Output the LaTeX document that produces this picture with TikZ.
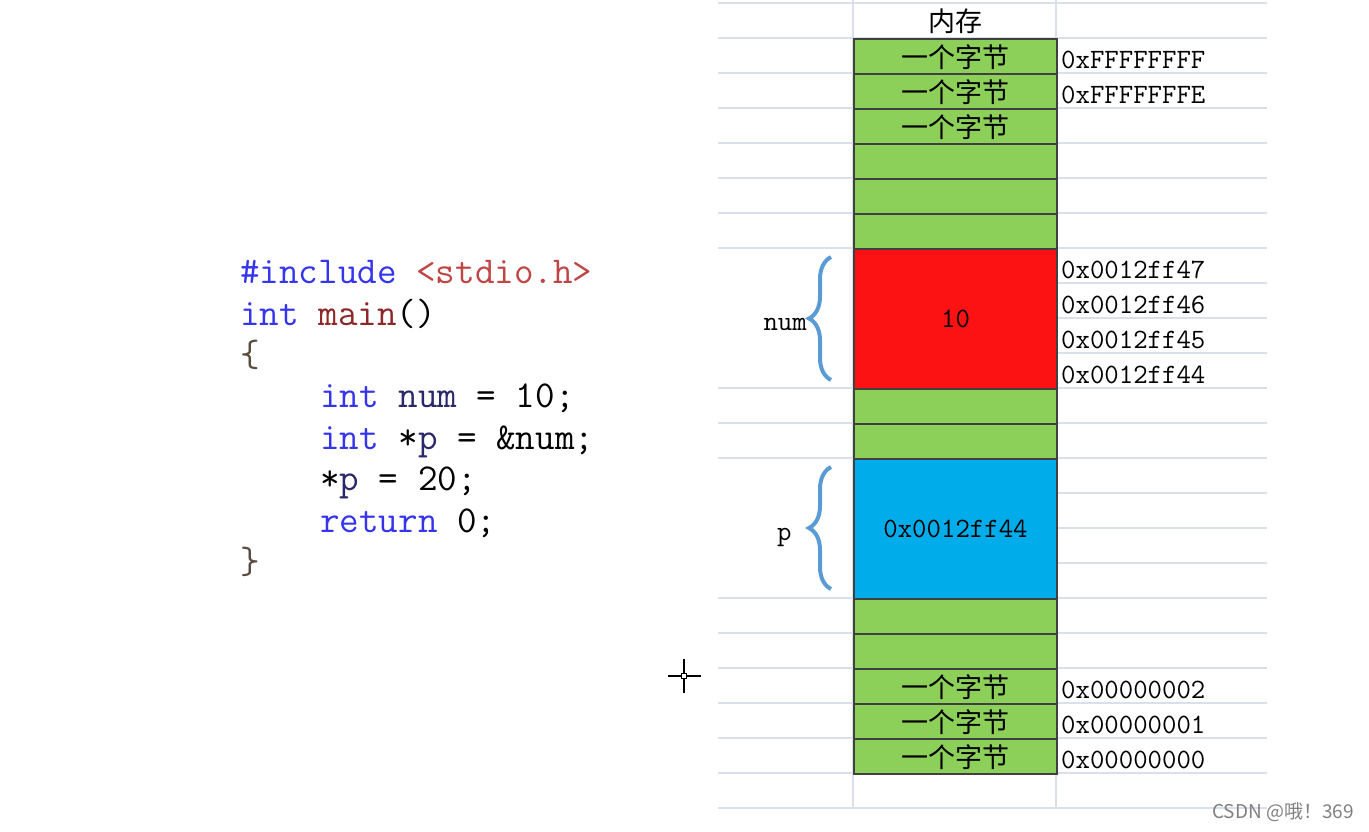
\documentclass[tikz,border=0pt]{standalone}
\usepackage{fontspec}
\newfontfamily\cjk{Noto Sans CJK SC}
\usetikzlibrary{decorations.pathreplacing}

\definecolor{cellgreen}{HTML}{8CD05A}
\definecolor{cellred}{HTML}{FC1212}
\definecolor{cellblue}{HTML}{00ADEA}
\definecolor{gridline}{HTML}{DAE0EA}
\definecolor{bracecol}{HTML}{5B9BD5}
\definecolor{kwblue}{HTML}{3535F0}
\definecolor{fnred}{HTML}{8E2828}
\definecolor{strred}{HTML}{C04545}
\definecolor{varnavy}{HTML}{28286A}
\definecolor{bracegray}{HTML}{5A4C40}

\tikzset{
  memcell/.style={draw=black!75, line width=2pt, minimum width=203pt,
    inner sep=0pt, anchor=north west},
  bytetxt/.style={font=\cjk\fontsize{27}{27}\selectfont},
  addr/.style={font=\ttfamily\fontsize{28}{28}\selectfont, inner sep=0pt, anchor=base west},
  codeline/.style={font=\ttfamily\fontsize{38}{38}\selectfont, inner sep=0pt, anchor=base west},
  varbrace/.style={decorate, decoration={brace, amplitude=22pt}, draw=bracecol, line width=4pt}
}

\begin{document}
\begin{tikzpicture}[x=1pt,y=-1pt]
  \useasboundingbox (0,0) rectangle (1369,831);

  % sheet grid
  \foreach \y in {3,38,73,108,143,178,213,248,388,423,458,598,633,668,703,738,773,808}
    \draw[gridline, line width=1.6pt] (718,\y) -- (1267,\y);
  \foreach \y in {283,318,353,493,528,563}
    \draw[gridline, line width=1.6pt] (1056,\y) -- (1267,\y);
  \foreach \x in {853,1056}
    \draw[gridline, line width=1.6pt] (\x,0) -- (\x,808);

  % code
  \node[codeline] (l1) at (240,283) {\textcolor{kwblue}{\#include} \textcolor{strred}{<stdio.h>}};
  \node[codeline] (l2) at (240,325) {\textcolor{kwblue}{int} \textcolor{fnred}{main}()};
  \node[codeline] (l3) at (240,366) {\textcolor{bracegray}{\{}};
  \node[codeline] (l4) at (320,407) {\textcolor{kwblue}{int} \textcolor{varnavy}{num} = 10;};
  \node[codeline] (l5) at (320,449) {\textcolor{kwblue}{int} *\textcolor{varnavy}{p} = \&num;};
  \node[codeline] (l6) at (320,490) {*\textcolor{varnavy}{p} = 20;};
  \node[codeline] (l7) at (320,532) {\textcolor{kwblue}{return} 0;};
  \node[codeline] (l8) at (240,573) {\textcolor{bracegray}{\}}};

  % memory column
  \node[bytetxt] (head) at (955,21) {内存};
  \node[memcell, fill=cellgreen, minimum height=35pt] (hi1) at (853,38) {};
  \node[memcell, fill=cellgreen, minimum height=35pt] (hi2) at (853,73) {};
  \node[memcell, fill=cellgreen, minimum height=35pt] (hi3) at (853,108) {};
  \foreach \t in {143,178,213,388,423,598,633}
    \node[memcell, fill=cellgreen, minimum height=35pt] at (853,\t) {};
  \node[memcell, fill=cellred, minimum height=140pt] (numcell) at (853,248) {};
  \node[memcell, fill=cellblue, minimum height=140pt] (pcell) at (853,458) {};
  \node[memcell, fill=cellgreen, minimum height=35pt] (lo3) at (853,668) {};
  \node[memcell, fill=cellgreen, minimum height=35pt] (lo2) at (853,703) {};
  \node[memcell, fill=cellgreen, minimum height=35pt] (lo1) at (853,738) {};
  \foreach \c in {hi1,hi2,hi3,lo3,lo2,lo1}
    \node[bytetxt] at ([yshift=-1pt]\c.center) {一个字节};
  \node[font=\ttfamily\fontsize{28}{28}\selectfont] at (numcell.center) {10};
  \node[font=\ttfamily\fontsize{28}{28}\selectfont] at (pcell.center) {0x0012ff44};

  % addresses
  \node[addr] at (1061,68) {0xFFFFFFFF};
  \node[addr] at (1061,103) {0xFFFFFFFE};
  \node[addr] at (1061,278) {0x0012ff47};
  \node[addr] at (1061,313) {0x0012ff46};
  \node[addr] at (1061,348) {0x0012ff45};
  \node[addr] at (1061,383) {0x0012ff44};
  \node[addr] at (1061,698) {0x00000002};
  \node[addr] at (1061,733) {0x00000001};
  \node[addr] at (1061,768) {0x00000000};

  % variable braces
  \draw[varbrace] (831,380) -- (831,257);
  \draw[varbrace] (831,589) -- (831,467);
  \node[font=\ttfamily\fontsize{28}{28}\selectfont, inner sep=0pt, anchor=base east] (numlbl) at (807,330) {num};
  \node[font=\ttfamily\fontsize{28}{28}\selectfont, inner sep=0pt, anchor=base west] (plbl) at (777,540) {p};

  % cursor
  \draw[line width=1.6pt] (668,676) -- (701,676);
  \draw[line width=1.6pt] (684,659) -- (684,693);
  \draw[line width=1pt, fill=white] (681.5,673.5) rectangle (686.5,678.5);

  % watermark
  \node[font=\cjk\fontsize{19}{19}\selectfont, text=black!50, anchor=east, inner sep=0pt] (mark) at (1354,812) {CSDN @哦！369};
\end{tikzpicture}
\end{document}
